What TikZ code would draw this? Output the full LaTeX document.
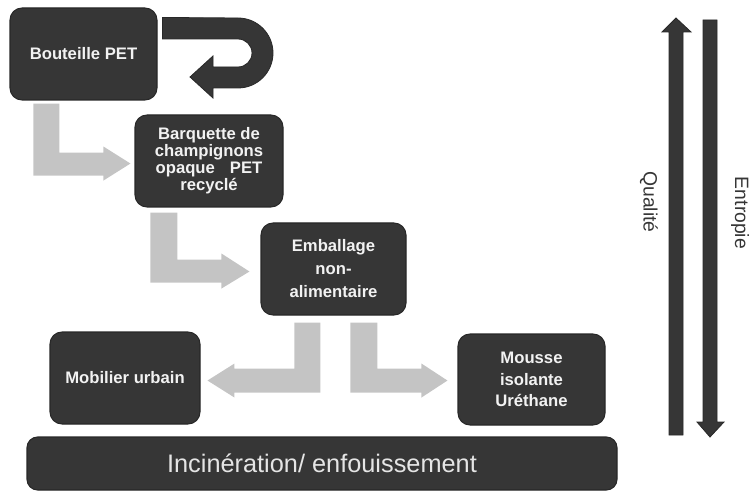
\documentclass[tikz,border=0pt]{standalone}
\usepackage{fontspec}
\setmainfont{Liberation Sans}
\usetikzlibrary{calc}
\definecolor{boxfill}{HTML}{363636}
\definecolor{boxline}{HTML}{282828}
\definecolor{flow}{HTML}{C4C4C4}
\definecolor{boxtext}{HTML}{F2F2F2}
\begin{document}
\begin{tikzpicture}[x=0.75pt,y=-0.75pt,
  box/.style={draw=boxline, line width=0.8pt, fill=boxfill, rounded corners=9pt,
    text=boxtext, align=center, inner sep=2pt},
  lbl/.style={font=\bfseries\fontsize{12.5}{15}\selectfont},
  flowarrow/.style={fill=flow},
  darkarrow/.style={fill=boxfill, draw=boxline, line width=0.6pt, line join=miter},
  sidelabel/.style={font=\fontsize{14.5}{17}\selectfont, text=boxfill, rotate=-90}
]
\useasboundingbox (0,0) rectangle (752,491);

% boxes
\node[box, lbl, minimum width=110.25pt, minimum height=69pt] (bout) at (83.5,54) {Bouteille PET};
\node[box, minimum width=111pt, minimum height=69pt,
  font=\bfseries\fontsize{12.5}{12.75}\selectfont] (barq) at (209,161)
  {Barquette de\\champignons\\opaque\hspace{0.9em}PET\\recyclé};
\node[box, minimum width=108.75pt, minimum height=69pt,
  font=\bfseries\fontsize{12.5}{17.25}\selectfont] (emb) at (333.5,269)
  {Emballage\\non-\\alimentaire};
\node[box, lbl, minimum width=112.5pt, minimum height=69pt] (mob) at (125,378) {Mobilier urbain};
\node[box, minimum width=110.25pt, minimum height=68.25pt,
  font=\bfseries\fontsize{12.5}{16}\selectfont] (mousse) at (531.5,379.5)
  {Mousse\\isolante\\Uréthane};
\node[box, minimum width=442.5pt, minimum height=39.75pt, rounded corners=8pt,
  text=white!90!black, font=\fontsize{19}{22}\selectfont] (inc) at (322,463.5)
  {Incinération/ enfouissement};

% gray flow arrows
\fill[flowarrow] ($(bout.south west)+(24,3)$) -- ++(26,0) -- ++(0,49) -- ++(44,0) -- ++(0,-6)
  -- ++(27,17) -- ++(-27,17) -- ++(0,-5) -- ++(-70,0) -- cycle;
\fill[flowarrow] ($(barq.south west)+(16,5)$) -- ++(27,0) -- ++(0,47) -- ++(44,0) -- ++(0,-6)
  -- ++(28,18) -- ++(-28,17) -- ++(0,-6) -- ++(-71,0) -- cycle;
\fill[flowarrow] ($(emb.south west)+(34,7)$) -- ++(26,0) -- ++(0,70) -- ++(-86,0) -- ++(0,5)
  -- ++(-27,-17) -- ++(27,-17) -- ++(0,5) -- ++(60,0) -- cycle;
\fill[flowarrow] ($(emb.south west)+(90,7)$) -- ++(27,0) -- ++(0,46) -- ++(44,0) -- ++(0,-5)
  -- ++(26,17) -- ++(-26,17) -- ++(0,-5) -- ++(-71,0) -- cycle;

% U-turn arrow
\coordinate (u0) at ($(bout.north east)+(5,10)$);
\draw[darkarrow] (u0) -- (238,18) arc[start angle=-90, end angle=90, radius=35]
  -- (213,88) -- (213,98) -- (190,77) -- (213,56) -- (213,67) -- (238,67)
  arc[start angle=90, end angle=-90, radius=14] -- (u0 |- 0,39) -- cycle;

% quality / entropy arrows
\draw[darkarrow] (669,435) -- (669,32) -- (662,32) -- (676,18) -- (691,32) -- (683,32) -- (683,435) -- cycle;
\draw[darkarrow] (703,20) -- (717,20) -- (717,422) -- (724,422) -- (710,437) -- (697,422) -- (703,422) -- cycle;
\node[sidelabel] (qual) at (649,202) {Qualité};
\node[sidelabel] (entr) at (740,213) {Entropie};
\end{tikzpicture}
\end{document}
